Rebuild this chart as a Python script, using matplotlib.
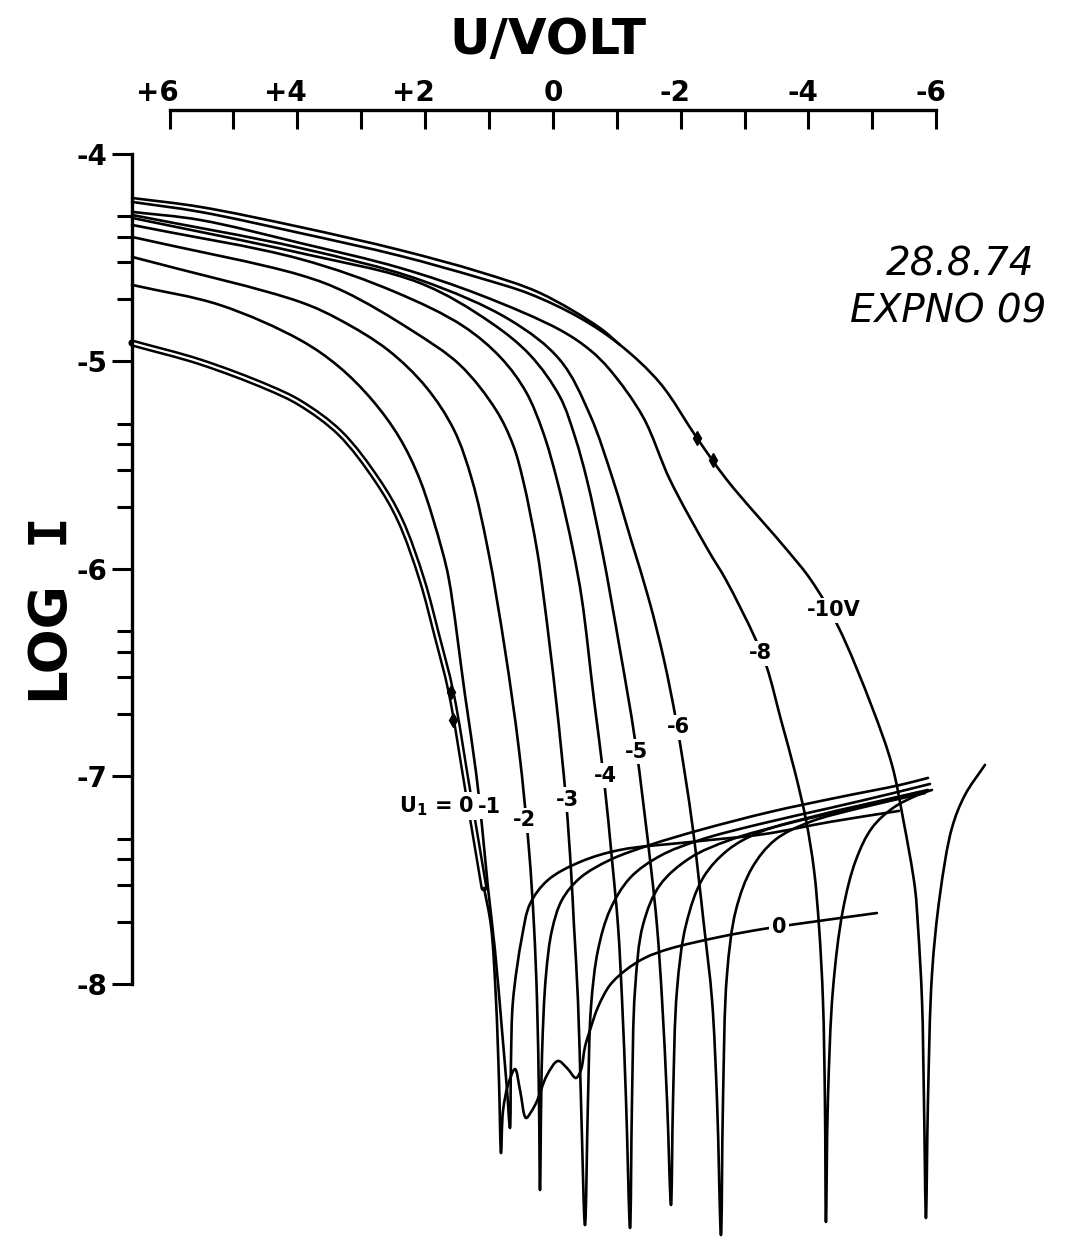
import matplotlib
matplotlib.use("Agg")
import matplotlib.pyplot as plt
import matplotlib.patheffects as pe
from matplotlib.path import Path
from matplotlib.patches import PathPatch
import numpy as np

plt.rcParams['font.family'] = ['DejaVu Sans']
plt.rcParams['mathtext.fontset'] = 'dejavusans'

# ---------------- data (U in volt, log10 I) ----------------
# U1 = 0  (forward branch traced twice, then reverse branch with wiggles)
c0_u = [6.587, 5.523, 4.474, 3.958, 3.332, 2.753, 2.393, 2.049, 1.814, 1.595, 1.329, 1.078,
        0.969, 0.891, 0.844, 0.812, 0.781, 0.703, 0.593, 0.515, 0.421, 0.342, 0.249, 0.092,
        -0.080, -0.220, -0.361, -0.439, -0.502, -0.581, -0.706, -0.894, -1.144, -1.441,
        -1.817, -2.615, -3.288, -3.725, -5.071]
c0_logi = [-4.911, -5.002, -5.123, -5.200, -5.345, -5.571, -5.764, -6.053, -6.323, -6.593, -7.075, -7.537,
           -7.720, -8.077, -8.463, -8.815, -8.612, -8.487, -8.410, -8.511, -8.646, -8.617, -8.564, -8.439,
           -8.371, -8.405, -8.453, -8.414, -8.303, -8.222, -8.111, -8.005, -7.932, -7.874,
           -7.831, -7.773, -7.735, -7.715, -7.658]

c1_u = [6.587, 5.210, 3.958, 3.347, 2.831, 2.408, 2.080, 1.736, 1.626, 1.376, 1.204, 1.110, 1.016,
        0.907, 0.797, 0.718, 0.672, 0.656, 0.625, 0.484, 0.358, 0.077, -0.424, -1.050, -2.145,
        -3.319, -4.335, -5.416]
c1_logi = [-4.631, -4.728, -4.896, -5.026, -5.185, -5.364, -5.571, -5.908, -6.053, -6.607, -6.978, -7.238, -7.537,
           -7.836, -8.222, -8.511, -8.694, -8.366, -8.082, -7.773, -7.614, -7.499, -7.412, -7.354, -7.316,
           -7.277, -7.219, -7.166]

c2_u = [6.587, 3.958, 3.332, 2.581, 1.986, 1.548, 1.266, 1.016, 0.750, 0.531, 0.374, 0.296, 0.249,
        0.218, 0.202, 0.170, 0.108, 0.014, -0.142, -0.424, -0.894, -1.520, -2.302, -3.397, -4.492,
        -5.431, -5.870]
c2_logi = [-4.496, -4.713, -4.800, -4.945, -5.123, -5.330, -5.571, -5.908, -6.390, -6.872, -7.354, -7.720, -8.077,
           -8.559, -8.993, -8.337, -7.956, -7.740, -7.595, -7.489, -7.402, -7.330, -7.258, -7.171, -7.099,
           -7.041, -7.007]

c3_u = [6.587, 3.958, 3.254, 2.221, 1.454, 0.890, 0.624, 0.468, 0.249, 0.139, -0.049, -0.205, -0.283,
        -0.330, -0.392, -0.439, -0.502, -0.549, -0.596, -0.706, -0.894, -1.207, -1.676, -2.302,
        -3.241, -4.335, -5.274, -5.901]
c3_logi = [-4.400, -4.583, -4.665, -4.848, -5.017, -5.234, -5.402, -5.571, -5.908, -6.149, -6.631, -7.113, -7.450,
           -7.720, -8.077, -8.559, -9.162, -8.559, -8.111, -7.836, -7.643, -7.489, -7.383, -7.306,
           -7.229, -7.152, -7.084, -7.036]

c4_u = [6.587, 3.958, 2.471, 1.407, 0.812, 0.421, 0.155, -0.064, -0.314, -0.455, -0.643, -0.800, -0.925,
        -1.019, -1.082, -1.144, -1.207, -1.238, -1.285, -1.410, -1.676, -2.145, -2.771, -3.710,
        -4.649, -5.744]
c4_logi = [-4.342, -4.506, -4.665, -4.829, -4.983, -5.147, -5.340, -5.571, -5.908, -6.149, -6.631, -7.017, -7.402,
           -7.720, -8.077, -8.559, -9.176, -8.559, -8.029, -7.715, -7.523, -7.393, -7.306, -7.224,
           -7.156, -7.075]

c5_u = [6.587, 3.958, 2.080, 0.984, 0.358, -0.111, -0.346, -0.533, -0.768, -1.050, -1.285, -1.535, -1.629,
        -1.708, -1.786, -1.848, -1.880, -1.942, -2.083, -2.349, -2.740, -3.241, -4.179, -5.118,
        -5.870]
c5_logi = [-4.308, -4.477, -4.622, -4.810, -4.969, -5.171, -5.364, -5.571, -5.908, -6.390, -6.824, -7.441, -7.720,
           -8.077, -8.559, -9.065, -8.559, -8.029, -7.715, -7.489, -7.354, -7.268, -7.185, -7.118,
           -7.065]

c6_u = [6.587, 3.958, 2.080, 0.672, -0.111, -0.581, -0.941, -1.223, -1.504, -1.739, -1.927, -2.068, -2.193,
        -2.365, -2.490, -2.568, -2.630, -2.662, -2.724, -2.865, -3.115, -3.476, -4.023, -4.805,
        -5.823]
c6_logi = [-4.294, -4.453, -4.607, -4.800, -4.993, -5.258, -5.571, -5.860, -6.149, -6.439, -6.728, -6.993, -7.258,
           -7.720, -8.077, -8.559, -9.210, -8.559, -7.956, -7.643, -7.441, -7.306, -7.219, -7.152,
           -7.080]

c8_u = [6.587, 5.523, 3.958, 2.393, 1.141, -0.111, -0.581, -0.894, -1.410, -1.833, -2.427, -2.709, -3.162,
        -3.351, -3.570, -3.788, -3.961, -4.086, -4.164, -4.226, -4.257, -4.273, -4.304, -4.382,
        -4.539, -4.743, -4.993, -5.322, -5.713, -5.932]
c8_logi = [-4.279, -4.318, -4.429, -4.549, -4.679, -4.848, -4.945, -5.041, -5.267, -5.571, -5.908, -6.053, -6.332,
           -6.477, -6.728, -6.978, -7.210, -7.450, -7.720, -8.077, -8.559, -9.147, -8.559, -8.029,
           -7.643, -7.402, -7.248, -7.152, -7.089, -7.065]

c10_u = [6.587, 5.523, 3.958, 2.393, 1.141, 0.358, -0.424, -1.050, -1.676, -2.255, -2.724, -3.663, -4.038,
         -4.460, -4.993, -5.306, -5.478, -5.666, -5.713, -5.776, -5.807, -5.838, -5.870, -5.932,
         -6.057, -6.245, -6.449, -6.762]
c10_logi = [-4.231, -4.279, -4.381, -4.491, -4.598, -4.675, -4.790, -4.920, -5.104, -5.369, -5.571, -5.908, -6.053,
            -6.275, -6.665, -6.944, -7.200, -7.537, -7.720, -8.077, -8.559, -9.128, -8.559, -7.956,
            -7.571, -7.248, -7.089, -6.944]
# second sweep of U1 = -10 V, separate only on the left
c10b_u = [6.587, 5.523, 3.958, 2.393, 1.141, 0.202, -0.737, -1.050]
c10b_logi = [-4.212, -4.255, -4.352, -4.463, -4.569, -4.670, -4.839, -4.920]

# sweep direction marks
arrow_u = [1.595, 1.563, -2.255, -2.505]
arrow_logi = [-6.593, -6.728, -5.369, -5.475]

x_ticks = list(range(-6, 7))
x_label_vals = [6, 4, 2, 0, -2, -4, -6]
x_labels = ["+6", "+4", "+2", "0", "-2", "-4", "-6"]
y_ticks = [-4, -5, -6, -7, -8]
y_labels = ["-4", "-5", "-6", "-7", "-8"]
minor_mantissa = [2, 3, 4, 5]

curve_labels = ["U$_\\mathregular{1}$ = 0", "-1", "-2", "-3", "-4", "-5", "-6", "-8", "-10V", "0"]
label_u = [1.814, 1.000, 0.452, -0.221, -0.815, -1.316, -1.958, -3.241, -4.399, -3.538]
label_logi = [-7.142, -7.147, -7.210, -7.113, -6.997, -6.882, -6.762, -6.405, -6.198, -7.725]

# ---------------- figure ----------------
fig = plt.figure(figsize=(10.8, 12.39), dpi=100)
ax = fig.add_axes([0, 0, 1, 1])
ax.set_xlim(8.653, -8.249)
ax.set_ylim(-9.229, -3.258)

for s in ['right', 'bottom']:
    ax.spines[s].set_visible(False)
ax.spines['left'].set_position(('data', 6.587))
ax.spines['left'].set_bounds(-8, -4)
ax.spines['top'].set_position(('data', -3.788))
ax.spines['top'].set_bounds(-6, 6)
for s in ['left', 'top']:
    ax.spines[s].set_linewidth(2.4)

ax.xaxis.set_ticks_position('top')
ax.set_xticks(x_ticks)
ax.tick_params(axis='x', which='major', direction='in', length=14, width=2.2,
               labeltop=False, labelbottom=False)
ax.yaxis.set_ticks_position('left')
ax.set_yticks(y_ticks, labels=y_labels)
minor = [d + np.log10(k) for d in (-8, -7, -6, -5) for k in minor_mantissa]
ax.set_yticks(minor, minor=True)
ax.tick_params(axis='y', which='major', direction='out', length=14.4, width=2.2,
               pad=3.5, labelsize=20)
ax.tick_params(axis='y', which='minor', direction='out', length=11, width=2.2)
for t in ax.get_yticklabels():
    t.set_fontweight('bold')

for v, lab in zip(x_label_vals, x_labels):
    ax.annotate(lab, xy=(v, -3.788), xytext=(7, 6.5), textcoords='offset points',
                ha='right', va='baseline', fontsize=20, fontweight='bold')

ax.text(0.077, -3.450, "U/VOLT", ha='center', va='center', fontsize=36, fontweight='bold')
ax.text(7.90, -6.342, "LOG", ha='center', va='center', rotation=90, fontsize=38,
        fontweight='bold')
ax.text(7.90, -5.802, "I", ha='center', va='center', rotation=90, fontsize=38,
        fontweight='bold', family='DejaVu Sans Mono')
ax.text(-6.372, -4.535, "28.8.74", ha='center', va='center', fontsize=28, style='italic')
ax.text(-6.184, -4.761, "EXPNO 09", ha='center', va='center', fontsize=28, style='italic')


def smooth_path(u, l):
    """Centripetal Catmull-Rom curve through the given points, drawn as Bezier path."""
    pts = ax.transData.transform(np.column_stack([u, l]))
    n = len(pts)
    verts = [pts[0]]
    codes = [Path.MOVETO]
    for i in range(n - 1):
        p1, p2 = pts[i], pts[i + 1]
        p0 = pts[i - 1] if i > 0 else 2 * p1 - p2
        p3 = pts[i + 2] if i + 2 < n else 2 * p2 - p1
        d1 = max(np.hypot(*(p1 - p0)), 1e-6) ** 0.5
        d2 = max(np.hypot(*(p2 - p1)), 1e-6) ** 0.5
        d3 = max(np.hypot(*(p3 - p2)), 1e-6) ** 0.5
        b1 = (d1**2 * p2 - d2**2 * p0 + (2 * d1**2 + 3 * d1 * d2 + d2**2) * p1) / (3 * d1 * (d1 + d2))
        b2 = (d3**2 * p1 - d2**2 * p3 + (2 * d3**2 + 3 * d3 * d2 + d2**2) * p2) / (3 * d3 * (d3 + d2))
        verts += [b1, b2, p2]
        codes += [Path.CURVE4] * 3
    verts = ax.transData.inverted().transform(np.array(verts))
    return Path(verts, codes)


lw = 1.9
# double traced forward branch of U1 = 0
ax.add_patch(PathPatch(smooth_path(c0_u[:12], c0_logi[:12]), fill=False, ec='k', lw=lw,
                       capstyle='round', joinstyle='round', zorder=1,
                       path_effects=[pe.Stroke(linewidth=5.2, foreground='k'),
                                     pe.Stroke(linewidth=1.6, foreground='white')]))
ax.add_patch(PathPatch(smooth_path(c0_u[11:], c0_logi[11:]), fill=False, ec='k', lw=lw,
                       capstyle='round', joinstyle='round', zorder=2))
for u, l in [(c1_u, c1_logi), (c2_u, c2_logi), (c3_u, c3_logi), (c4_u, c4_logi),
             (c5_u, c5_logi), (c6_u, c6_logi), (c8_u, c8_logi), (c10_u, c10_logi),
             (c10b_u, c10b_logi)]:
    ax.add_patch(PathPatch(smooth_path(u, l), fill=False, ec='k', lw=lw,
                           capstyle='round', joinstyle='round', zorder=2))

ax.plot(arrow_u, arrow_logi, linestyle='none', marker='d', markersize=7, color='k', zorder=3)

for txt, u, l in zip(curve_labels, label_u, label_logi):
    ax.text(u, l, txt, ha='center', va='center', fontsize=15, fontweight='bold', zorder=5,
            bbox=dict(boxstyle='square,pad=0.12', fc='white', ec='none'))

fig.savefig("out.png", dpi=100)
